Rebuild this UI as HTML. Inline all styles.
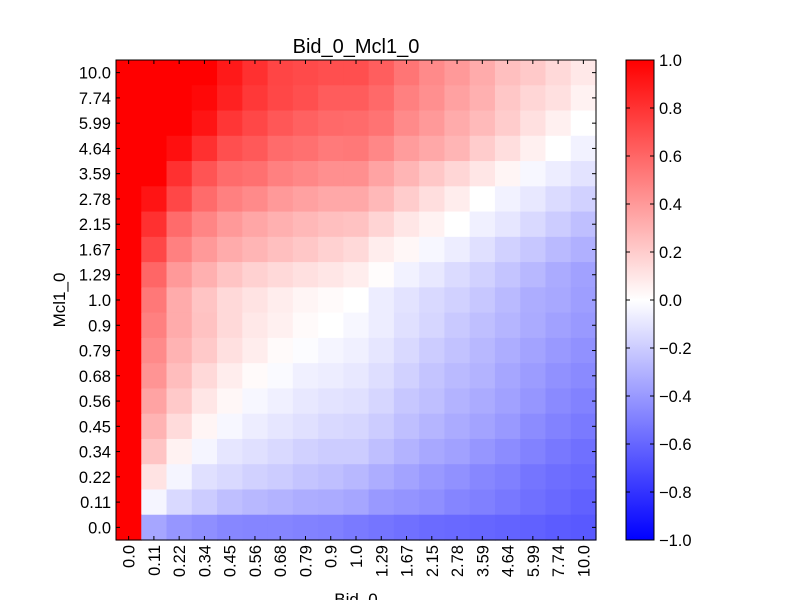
<!DOCTYPE html>
<html><head><meta charset="utf-8"><style>
body{margin:0;background:#fff;}
svg text{font-family:"Liberation Sans",sans-serif;fill:#000;}
</style></head><body>
<svg id="chart" width="800" height="600"></svg>
<script>
const labels = ["0.0","0.11","0.22","0.34","0.45","0.56","0.68","0.79","0.9","1.0","1.29","1.67","2.15","2.78","3.59","4.64","5.99","7.74","10.0"];
// rows listed from top (Mcl1_0 = 10.0) to bottom (0.0); columns Bid_0 0.0 .. 10.0
const row10 = [1,1,1,1,0.9,0.81,0.73,0.71,0.69,0.69,0.63,0.54,0.46,0.4,0.33,0.25,0.21,0.15,0.09];
const row774 = [1,1,1,0.97,0.87,0.78,0.72,0.69,0.64,0.64,0.59,0.5,0.44,0.37,0.31,0.22,0.16,0.12,0.05];
const row599 = [1,1,1,0.92,0.79,0.72,0.66,0.62,0.59,0.58,0.55,0.46,0.4,0.33,0.27,0.2,0.12,0.06,0.0];
const row464 = [1,1,0.94,0.81,0.69,0.65,0.58,0.56,0.52,0.53,0.47,0.39,0.34,0.29,0.2,0.13,0.06,0.0,-0.05];
const row359 = [1,1,0.81,0.67,0.58,0.56,0.5,0.47,0.44,0.44,0.36,0.29,0.22,0.16,0.1,0.04,-0.03,-0.07,-0.11];
const row278 = [1,0.92,0.72,0.58,0.5,0.46,0.4,0.37,0.34,0.34,0.28,0.2,0.13,0.07,0.0,-0.05,-0.09,-0.14,-0.18];
const row215 = [1,0.81,0.58,0.48,0.4,0.35,0.31,0.28,0.25,0.24,0.17,0.1,0.05,0.0,-0.06,-0.1,-0.15,-0.2,-0.25];
const row167 = [1,0.72,0.5,0.4,0.33,0.29,0.25,0.22,0.18,0.15,0.07,0.03,-0.03,-0.07,-0.12,-0.18,-0.22,-0.27,-0.31];
const row129 = [1,0.6,0.4,0.31,0.23,0.18,0.15,0.12,0.1,0.07,0.01,-0.05,-0.09,-0.14,-0.18,-0.23,-0.28,-0.33,-0.37];
const row100 = [1,0.53,0.33,0.23,0.15,0.11,0.07,0.04,0.02,0.0,-0.07,-0.11,-0.15,-0.18,-0.22,-0.27,-0.32,-0.34,-0.38];
const row090 = [1,0.5,0.33,0.24,0.15,0.09,0.06,0.02,0.0,-0.03,-0.07,-0.12,-0.16,-0.21,-0.25,-0.29,-0.33,-0.37,-0.4];
const row079 = [1,0.46,0.3,0.21,0.12,0.07,0.02,-0.01,-0.04,-0.06,-0.1,-0.15,-0.2,-0.24,-0.28,-0.32,-0.36,-0.4,-0.43];
const row068 = [1,0.42,0.26,0.15,0.07,0.02,-0.02,-0.06,-0.07,-0.09,-0.13,-0.18,-0.23,-0.27,-0.3,-0.35,-0.39,-0.43,-0.46];
const row056 = [1,0.36,0.21,0.1,0.03,-0.03,-0.06,-0.09,-0.11,-0.12,-0.16,-0.22,-0.25,-0.3,-0.33,-0.37,-0.41,-0.46,-0.49];
const row045 = [1,0.3,0.14,0.04,-0.03,-0.07,-0.1,-0.12,-0.15,-0.16,-0.2,-0.25,-0.29,-0.33,-0.36,-0.4,-0.45,-0.49,-0.52];
const row034 = [1,0.23,0.05,-0.04,-0.1,-0.12,-0.15,-0.18,-0.2,-0.2,-0.25,-0.3,-0.34,-0.37,-0.41,-0.45,-0.49,-0.53,-0.56];
const row022 = [1,0.11,-0.04,-0.12,-0.15,-0.18,-0.2,-0.23,-0.25,-0.28,-0.32,-0.36,-0.4,-0.43,-0.47,-0.5,-0.54,-0.57,-0.59];
const row011 = [1,-0.04,-0.15,-0.2,-0.25,-0.28,-0.3,-0.32,-0.33,-0.35,-0.4,-0.42,-0.44,-0.48,-0.5,-0.53,-0.56,-0.59,-0.62];
const row000 = [1,-0.35,-0.41,-0.44,-0.47,-0.48,-0.48,-0.49,-0.5,-0.52,-0.54,-0.56,-0.58,-0.59,-0.6,-0.61,-0.62,-0.64,-0.65];
const matrix = [row10,row774,row599,row464,row359,row278,row215,row167,row129,row100,row090,row079,row068,row056,row045,row034,row022,row011,row000];
const cbTicks = ["1.0","0.8","0.6","0.4","0.2","0.0","\u22120.2","\u22120.4","\u22120.6","\u22120.8","\u22121.0"];

const NS="http://www.w3.org/2000/svg";
const svg=document.getElementById('chart');
function mk(t,a,p){const e=document.createElementNS(NS,t);for(const k in a)e.setAttribute(k,a[k]);(p||svg).appendChild(e);return e;}
const X0=116,Y0=60,W=480,H=480,n=labels.length,cw=W/n,ch=H/n;
const xPos=i=>X0+i*cw, yPos=r=>Y0+r*ch;
function color(v){v=Math.max(-1,Math.min(1,v));
 if(v>=0){const g=Math.round(255*(1-v));return `rgb(255,${g},${g})`;}
 const g=Math.round(255*(1+v));return `rgb(${g},${g},255)`;}
const cells=mk('g',{});


matrix.forEach((row,r)=>row.forEach((v,c)=>{
 const el=mk('rect',{x:xPos(c),y:yPos(r),width:cw+0.6,height:ch+0.6,fill:color(v)},cells);
 
 
}));
const fr=mk('rect',{x:X0,y:Y0,width:W,height:H,fill:'none',stroke:'#000','stroke-width':1});


for(let i=0;i<n;i++){
 const cx=xPos(i)+cw/2, cy=yPos(i)+ch/2;
 mk('line',{x1:cx,y1:Y0+H,x2:cx,y2:Y0+H-4,stroke:'#000'});
 mk('line',{x1:cx,y1:Y0,x2:cx,y2:Y0+4,stroke:'#000'});
 mk('line',{x1:X0,y1:cy,x2:X0+4,y2:cy,stroke:'#000'});
 mk('line',{x1:X0+W,y1:cy,x2:X0+W-4,y2:cy,stroke:'#000'});
 const yl=mk('text',{x:X0-5,y:cy+6,'text-anchor':'end','font-size':16.5});
 yl.textContent=labels[n-1-i];
 
 
 const xl=mk('text',{x:0,y:0,'text-anchor':'end','font-size':16.5,transform:`translate(${cx+6},${Y0+H+5}) rotate(-90)`});
 xl.textContent=labels[i];
 
 
}
const t=mk('text',{x:356,y:53,'text-anchor':'middle','font-size':20});t.textContent='Bid_0_Mcl1_0';


const xt=mk('text',{x:356,y:605,'text-anchor':'middle','font-size':17});xt.textContent='Bid_0';


const yt=mk('text',{x:0,y:0,'text-anchor':'middle','font-size':17,transform:'translate(65,300) rotate(-90)'});yt.textContent='Mcl1_0';


// colorbar
const defs=mk('defs',{});
const lg=mk('linearGradient',{id:'cb',x1:0,y1:0,x2:0,y2:1},defs);
mk('stop',{offset:'0',  'stop-color':'#ff0000'},lg);
mk('stop',{offset:'0.5','stop-color':'#ffffff'},lg);
mk('stop',{offset:'1',  'stop-color':'#0000ff'},lg);
const cb=mk('rect',{x:626,y:60,width:28,height:480,fill:'url(#cb)',stroke:'#000'});


cbTicks.forEach((lab,i)=>{
 const y=60+i*48;
 mk('line',{x1:626,y1:y,x2:630,y2:y,stroke:'#000'});
 mk('line',{x1:654,y1:y,x2:650,y2:y,stroke:'#000'});
 const tl=mk('text',{x:659,y:y+6,'font-size':16.5});tl.textContent=lab;
 
 
});
</script>
</body></html>
